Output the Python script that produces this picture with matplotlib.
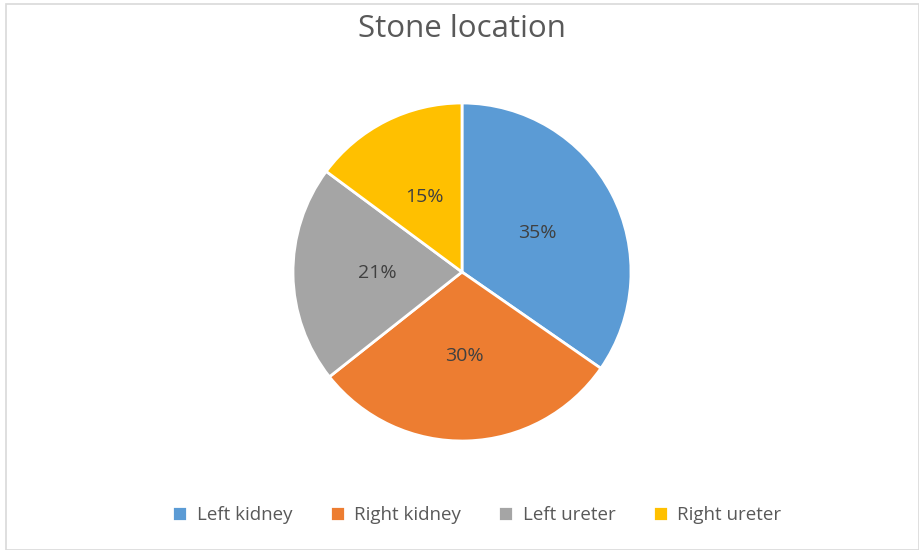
import matplotlib.pyplot as plt
from matplotlib.patches import Rectangle

labels = ['Left kidney', 'Right kidney', 'Left ureter', 'Right ureter']
values = [35, 30, 21, 15]
colors = ['#5B9BD5', '#ED7D31', '#A5A5A5', '#FFC000']

plt.rcParams['font.family'] = ['Open Sans', 'DejaVu Sans']

W, H = 920, 550
fig = plt.figure(figsize=(W / 100, H / 100), dpi=100)

# light frame like the office chart
fig.patches.append(Rectangle((6 / W, 0), (919 - 6) / W, 1 - 4 / H, transform=fig.transFigure,
                             fill=False, edgecolor='#D9D9D9', linewidth=1.2))

cx, cy, r = 462, 272, 169
ax = fig.add_axes([(cx - r) / W, (H - cy - r) / H, 2 * r / W, 2 * r / H])

wedges, texts, pcts = ax.pie(values, colors=colors, startangle=90, counterclock=False,
                             autopct='%1.0f%%', pctdistance=0.5,
                             wedgeprops=dict(edgecolor='white', linewidth=2),
                             textprops=dict(color='#404040', fontsize=14))
ax.set_xlim(-1, 1)
ax.set_ylim(-1, 1)
ax.set_aspect('equal')
ax.axis('off')

fig.text(cx / W, 1 - 29 / H, 'Stone location', ha='center', va='center',
         fontsize=22.5, color='#595959')

fig.legend(wedges, labels, loc='center', bbox_to_anchor=(477 / W, 1 - 515 / H), ncol=4,
           frameon=False, fontsize=13.5, labelcolor='#595959', handlelength=0.8,
           handleheight=0.8, handletextpad=0.5, columnspacing=2.0)

fig.savefig('out.png', dpi=100)
